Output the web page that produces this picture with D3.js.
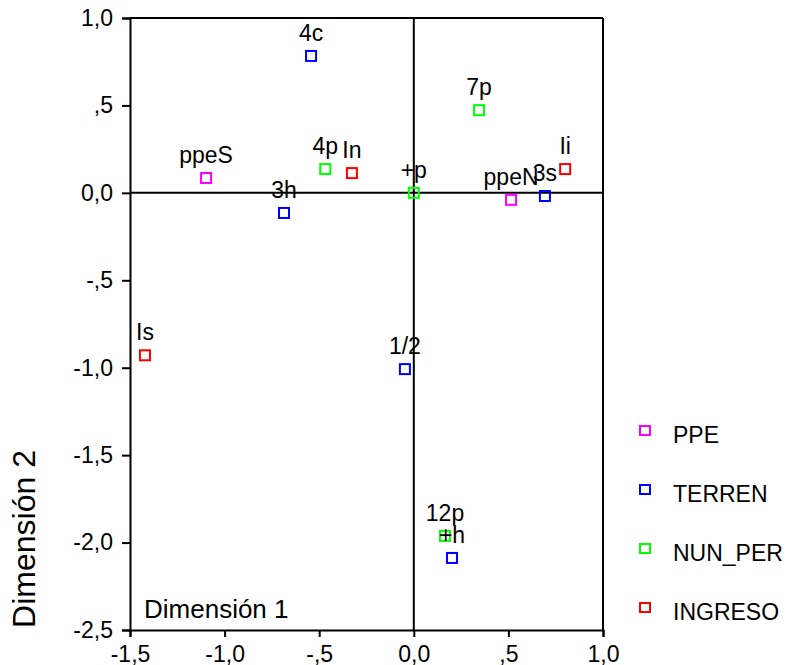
<!DOCTYPE html>
<html><head><meta charset="utf-8">
<script src="https://cdn.jsdelivr.net/npm/d3@7"></script>
<style>body{margin:0;background:#fff}svg{display:block}</style>
</head><body>
<script>
const groups = ["PPE","TERREN","NUN_PER","INGRESO"];
const groupColors = ["#ff00ff","#0000ff","#00ff00","#ff0000"];
const labels = ["ppeS","ppeN","4c","3h","3s","1/2","+h","7p","4p","+p","12p","In","Ii","Is"];
const pointGroup = ["PPE","PPE","TERREN","TERREN","TERREN","TERREN","TERREN","NUN_PER","NUN_PER","NUN_PER","NUN_PER","INGRESO","INGRESO","INGRESO"];
const dim1 = [-1.098,0.514,-0.543,-0.686,0.693,-0.047,0.202,0.345,-0.468,0.0,0.165,-0.327,0.80,-1.421];
const dim2 = [0.085,-0.04,0.783,-0.115,-0.018,-1.008,-2.088,0.473,0.136,0.0,-1.962,0.113,0.136,-0.929];
const xTicks = [-1.5,-1.0,-0.5,0.0,0.5,1.0];
const yTicks = [1.0,0.5,0.0,-0.5,-1.0,-1.5,-2.0,-2.5];
const xTickLabels = ["-1,5","-1,0","-,5","0,0",",5","1,0"];
const yTickLabels = ["1,0",",5","0,0","-,5","-1,0","-1,5","-2,0","-2,5"];

const W=791,H=665;
const L=130,R=603,T=18,B=630;
const svg=d3.select("body").append("svg").attr("width",W).attr("height",H);
const x=d3.scaleLinear().domain([-1.5,1.0]).range([L,R]);
const y=d3.scaleLinear().domain([-2.5,1.0]).range([B,T]);
const font="Liberation Sans, Arial, sans-serif";

const xa=svg.append("g").attr("transform",`translate(0,${B})`)
 .call(d3.axisBottom(x).tickValues(xTicks).tickFormat((d,i)=>xTickLabels[i]).tickSize(7).tickPadding(9));
const ya=svg.append("g").attr("transform",`translate(${L},0)`)
 .call(d3.axisLeft(y).tickValues(yTicks).tickFormat((d,i)=>yTickLabels[i]).tickSize(8).tickPadding(9));
[xa,ya].forEach(a=>{a.select(".domain").attr("stroke","#000").attr("stroke-width",2);
 a.selectAll(".tick line").attr("stroke","#000").attr("stroke-width",2);
 a.selectAll("text").attr("fill","#000").style("font-family",font).style("font-size","23px");});
// frame top/right
svg.append("line").attr("x1",L).attr("x2",R).attr("y1",T).attr("y2",T).attr("stroke","#000").attr("stroke-width",2);
svg.append("line").attr("x1",R).attr("x2",R).attr("y1",T).attr("y2",B).attr("stroke","#000").attr("stroke-width",2);
// zero lines
svg.append("line").attr("x1",x(0)).attr("x2",x(0)).attr("y1",T).attr("y2",B).attr("stroke","#000").attr("stroke-width",2);
svg.append("line").attr("x1",L).attr("x2",R).attr("y1",y(0)).attr("y2",y(0)).attr("stroke","#000").attr("stroke-width",2);

const col=d3.scaleOrdinal().domain(groups).range(groupColors);
const pts=labels.map((l,i)=>({l,g:pointGroup[i],x:dim1[i],y:dim2[i]}));
svg.append("g").selectAll("rect").data(pts).join("rect")
 .attr("x",d=>x(d.x)-5).attr("y",d=>y(d.y)-5).attr("width",10).attr("height",10)
 .attr("fill","none").attr("stroke",d=>col(d.g)).attr("stroke-width",2);
svg.append("g").selectAll("text").data(pts).join("text")
 .attr("x",d=>x(d.x)).attr("y",d=>y(d.y)-15).attr("text-anchor","middle")
 .style("font-family",font).style("font-size","23px").attr("fill","#000").text(d=>d.l);

svg.append("text").attr("x",144).attr("y",618).style("font-family",font).style("font-size","26px").text("Dimensión 1");
svg.append("text").attr("transform","translate(35,539) rotate(-90)").attr("text-anchor","middle")
 .style("font-family",font).style("font-size","32px").text("Dimensión 2");

const lg=svg.append("g").selectAll("g").data(groups).join("g")
 .attr("transform",(d,i)=>`translate(640,${426+i*59})`);
lg.append("rect").attr("width",10).attr("height",9).attr("fill","none").attr("stroke",d=>col(d)).attr("stroke-width",2);
lg.append("text").attr("x",33).attr("y",17).style("font-family",font).style("font-size","23px").text(d=>d);
</script>
</body></html>
